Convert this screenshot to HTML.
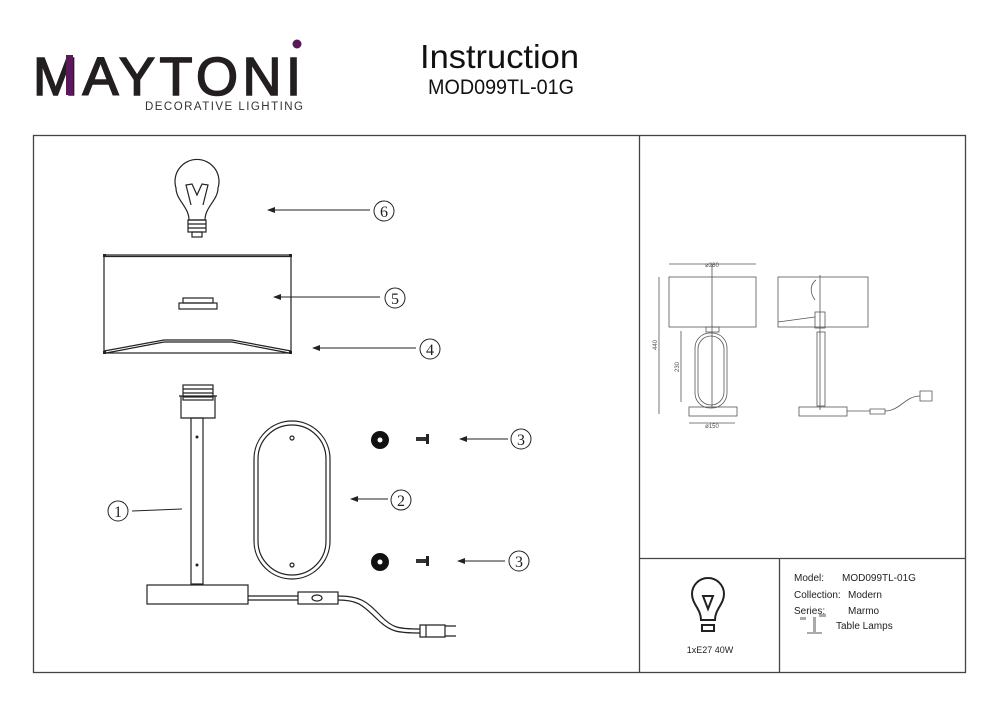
<!DOCTYPE html>
<html><head><meta charset="utf-8"><style>
body{margin:0;background:#fff;width:1000px;height:707px;overflow:hidden}
svg text{font-family:"Liberation Sans",sans-serif}
</style></head><body>
<svg width="1000" height="707" viewBox="0 0 1000 707" xmlns="http://www.w3.org/2000/svg">
<defs><marker id="ar" markerWidth="8" markerHeight="6" refX="1" refY="3" orient="auto"><path d="M8,0 L0,3 L8,6 Z" fill="#222"/></marker></defs>
<!-- header -->
<text x="33" y="95" font-size="54" fill="#231f20" stroke="#231f20" stroke-width="1.6" textLength="268" lengthAdjust="spacing">MAYTONI</text>
<rect x="66" y="55" width="7" height="40" fill="#5a1a5a"/>
<circle cx="297" cy="44" r="4.5" fill="#5a1a5a"/>
<text x="145" y="110" font-size="11.5" fill="#333" textLength="158" lengthAdjust="spacing">DECORATIVE LIGHTING</text>
<text x="420" y="68" font-size="33" fill="#111" textLength="159" lengthAdjust="spacingAndGlyphs">Instruction</text>
<text x="428" y="94" font-size="21" fill="#111" textLength="146" lengthAdjust="spacingAndGlyphs">MOD099TL-01G</text>
<!-- frame -->
<g fill="none" stroke="#444" stroke-width="1.3">
<rect x="33.5" y="135.5" width="932" height="537"/>
<line x1="639.5" y1="135" x2="639.5" y2="673"/>
<line x1="639" y1="558.5" x2="966" y2="558.5"/>
<line x1="779.5" y1="558" x2="779.5" y2="673"/>
</g>
<!-- bulb 6 -->
<g fill="none" stroke="#222" stroke-width="1.2">
<path d="M189,220 C189,207 176,200 176,188 A22,22 0 1 1 218,188 C218,200 205,207 205,220 Z"/>
<path d="M191,205 L186,185 L192,184 L197,195 L202,184 L208,185 L203,205"/>
<rect x="188" y="220" width="18" height="12"/>
<line x1="188" y1="224" x2="206" y2="224"/><line x1="188" y1="228" x2="206" y2="228"/>
<rect x="192" y="232" width="10" height="5"/>
</g>
<!-- shade 5/4 -->
<g fill="none" stroke="#222" stroke-width="1.2">
<rect x="104" y="255" width="187" height="98"/>
<line x1="104" y1="256.5" x2="291" y2="256.5"/>
<path d="M104,351 L164,340 L232,340 L291,351"/>
<path d="M106,353 L164,342 L232,342 L289,353"/>
<rect x="179" y="303" width="38" height="6"/><rect x="183" y="298" width="30" height="5"/>
</g>
<g fill="#222"><rect x="103" y="254" width="3" height="3"/><rect x="289" y="254" width="3" height="3"/><rect x="103" y="351" width="3" height="3"/><rect x="289" y="351" width="3" height="3"/></g>
<!-- stand 1 -->
<g fill="none" stroke="#222" stroke-width="1.2">
<rect x="183" y="385" width="30" height="15"/>
<line x1="183" y1="389" x2="213" y2="389"/><line x1="183" y1="393" x2="213" y2="393"/><line x1="183" y1="397" x2="213" y2="397"/>
<path d="M179,396 H217 M181,396 V418 H215 V396"/>
<rect x="191" y="418" width="12" height="166"/>
<rect x="147" y="585" width="101" height="19"/>
<path d="M248,596 H298 M248,600 H298"/>
<rect x="298" y="592" width="40" height="12"/>
<ellipse cx="317" cy="598" rx="5" ry="3"/>
<path d="M338,596 C362,596 368,603 380,615 C392,628 398,629 420,629 M338,600 C360,600 364,607 377,619 C390,632 398,633 420,633"/>
<path d="M420,625 H445 V637 H420 Z M426,625 V637"/>
<path d="M445,626 H456 M445,636 H456"/>
</g>
<circle cx="197" cy="437" r="1.5" fill="#222"/><circle cx="197" cy="565" r="1.5" fill="#222"/>
<!-- ring 2 -->
<g fill="none" stroke="#222" stroke-width="1.2">
<rect x="254" y="421" width="76" height="158" rx="38"/>
<rect x="258" y="425" width="68" height="150" rx="34"/>
<circle cx="292" cy="438" r="2"/><circle cx="292" cy="565" r="2"/>
</g>
<!-- washers 3 -->
<circle cx="380" cy="440" r="9" fill="#111"/><circle cx="380" cy="440" r="2.5" fill="#fff"/>
<circle cx="380" cy="562" r="9" fill="#111"/><circle cx="380" cy="562" r="2.5" fill="#fff"/>
<rect x="416" y="437" width="12" height="4" fill="#333"/><rect x="426" y="434" width="3" height="10" fill="#222"/>
<rect x="416" y="559" width="12" height="4" fill="#333"/><rect x="426" y="556" width="3" height="10" fill="#222"/>
<!-- leaders -->
<g stroke="#222" stroke-width="1">
<line x1="268" y1="210" x2="370" y2="210" marker-start="url(#ar)"/>
<line x1="274" y1="297" x2="380" y2="297" marker-start="url(#ar)"/>
<line x1="313" y1="348" x2="416" y2="348" marker-start="url(#ar)"/>
<line x1="460" y1="439" x2="508" y2="439" marker-start="url(#ar)"/>
<line x1="351" y1="499" x2="388" y2="499" marker-start="url(#ar)"/>
<line x1="458" y1="561" x2="505" y2="561" marker-start="url(#ar)"/>
<line x1="132" y1="511" x2="182" y2="509"/>
</g>
<g fill="none" stroke="#222" stroke-width="1">
<circle cx="384" cy="211" r="10"/><circle cx="395" cy="298" r="10"/><circle cx="430" cy="349" r="10"/>
<circle cx="521" cy="439" r="10"/><circle cx="401" cy="500" r="10"/><circle cx="519" cy="561" r="10"/><circle cx="118" cy="511" r="10"/>
</g>
<g font-size="16" text-anchor="middle" fill="#222">
<text x="384" y="217" style="font-family:'Liberation Serif',serif">6</text>
<text x="395" y="304" style="font-family:'Liberation Serif',serif">5</text>
<text x="430" y="355" style="font-family:'Liberation Serif',serif">4</text>
<text x="521" y="445" style="font-family:'Liberation Serif',serif">3</text>
<text x="401" y="506" style="font-family:'Liberation Serif',serif">2</text>
<text x="519" y="567" style="font-family:'Liberation Serif',serif">3</text>
<text x="118" y="517" style="font-family:'Liberation Serif',serif">1</text>
</g>
<!-- dimension drawing -->
<g fill="none" stroke="#555" stroke-width="0.8">
<rect x="669" y="277" width="87" height="50"/>
<line x1="669" y1="264" x2="756" y2="264"/>
<line x1="712" y1="264" x2="712" y2="408"/>
<rect x="706" y="327" width="13" height="5"/>
<rect x="695" y="333" width="32" height="75" rx="15"/>
<rect x="698" y="336" width="26" height="69" rx="13"/>
<rect x="689" y="407" width="48" height="9"/>
<line x1="659" y1="277" x2="659" y2="414"/>
<line x1="681" y1="331" x2="681" y2="402"/>
<line x1="689" y1="423" x2="735" y2="423"/>
<rect x="778" y="277" width="90" height="50"/>
<line x1="820" y1="275" x2="820" y2="410"/>
<path d="M778,322 L815,317"/>
<rect x="815" y="312" width="10" height="16"/>
<rect x="817" y="332" width="8" height="74"/>
<rect x="799" y="407" width="48" height="9"/>
<path d="M847,411 H870 M870,409 H885 V414 H870 Z M885,411 C900,411 905,396 920,396 M920,391 H932 V401 H920 Z"/>
<path d="M815,300 C808,290 812,283 816,280"/>
</g>
<g font-size="6" fill="#555" text-anchor="middle">
<text x="712" y="267">ø280</text><text x="712" y="428">ø150</text>
<text x="657" y="345" transform="rotate(-90 657 345)">440</text>
<text x="679" y="367" transform="rotate(-90 679 367)">230</text>
</g>
<!-- bulb icon -->
<g fill="none" stroke="#222" stroke-width="2">
<path d="M701,620 C701,609 692,604 692,594 A16,16 0 1 1 724,594 C724,604 715,609 715,620 Z"/>
<path d="M703,596 H713 L708,609 Z"/>
<rect x="702" y="625" width="12" height="6"/>
</g>
<text x="710" y="653" font-size="9" text-anchor="middle" fill="#222">1xE27 40W</text>
<g font-size="10" fill="#222">
<text x="794" y="581">Model:</text><text x="842" y="581">MOD099TL-01G</text>
<text x="794" y="598">Collection:</text><text x="848" y="598">Modern</text>
<text x="794" y="614">Series:</text><text x="848" y="614">Marmo</text>
<text x="836" y="629">Table Lamps</text>
</g>
<g fill="#aaa"><rect x="813" y="617" width="3" height="15"/><rect x="807" y="632" width="15" height="2"/><rect x="800" y="617" width="6" height="3"/><rect x="819" y="614" width="7" height="3"/></g>
</svg>
</body></html>
